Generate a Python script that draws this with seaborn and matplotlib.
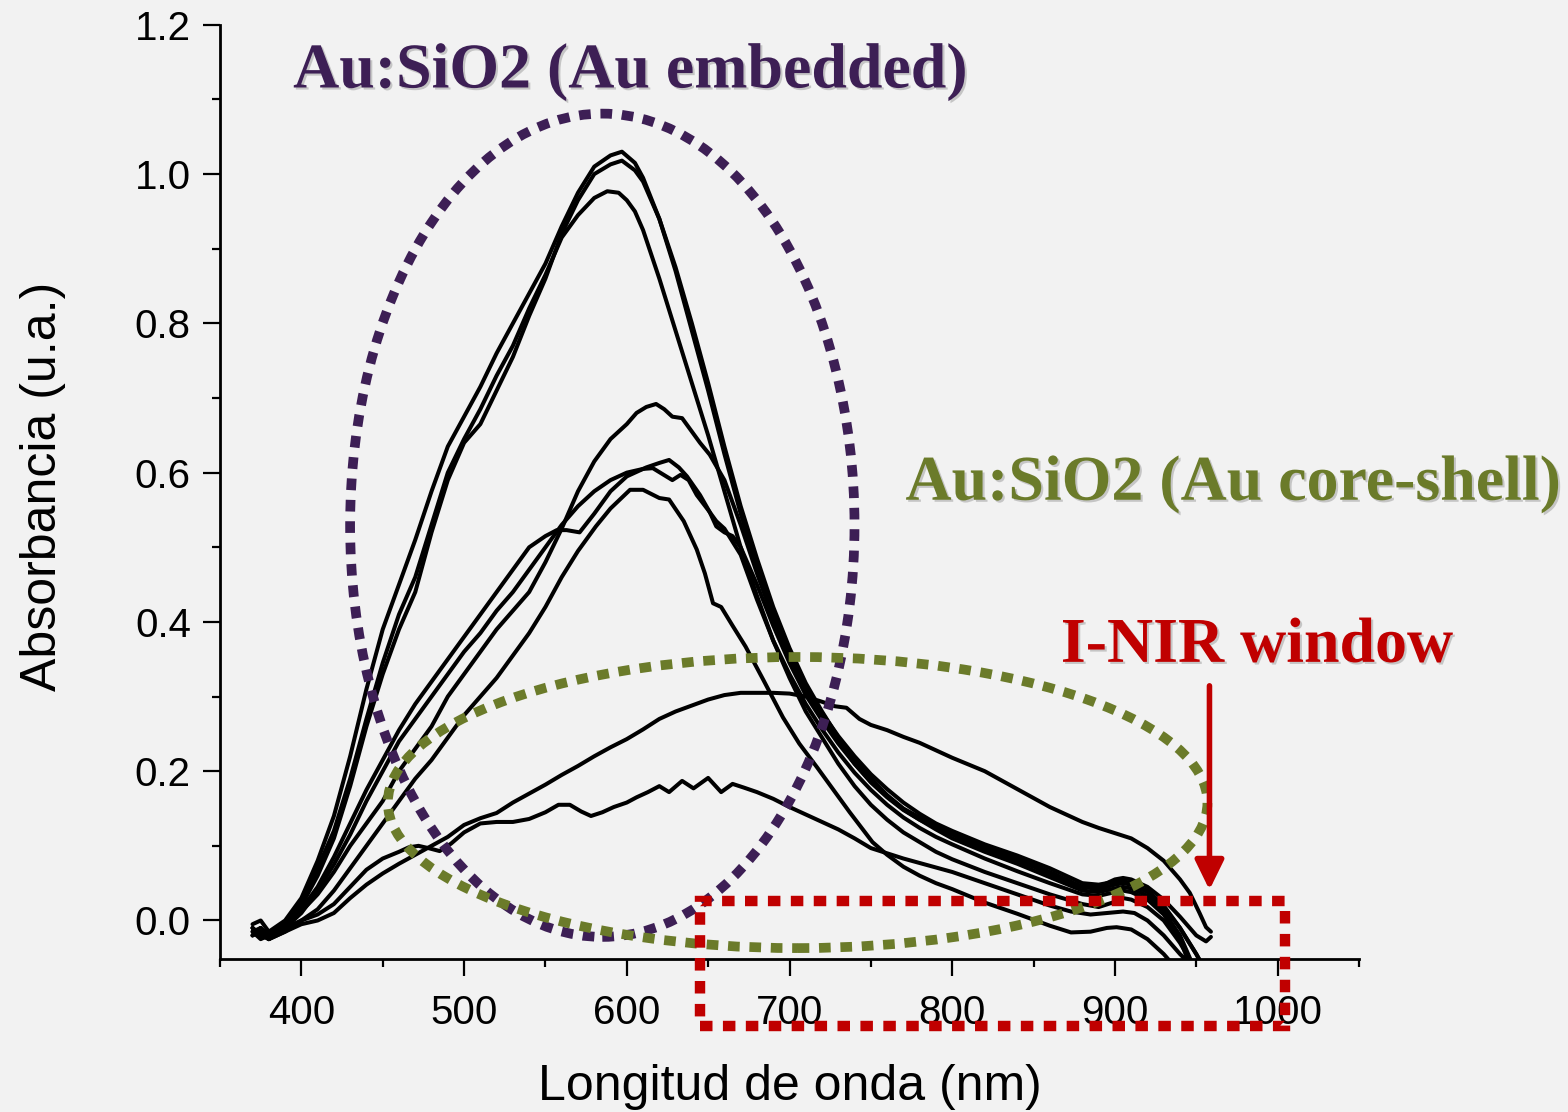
import matplotlib
matplotlib.use("Agg")
import numpy as np
import pandas as pd
import matplotlib.pyplot as plt
import seaborn as sns
from matplotlib.patches import Ellipse, Rectangle
import matplotlib.patheffects as pe

# ---------------- data ----------------
A1_nm = [370,375,380,390,400,410,420,430,440,450,460,470,480,490,500,510,520,530,540,550,560,570,580,590,597,605,610,620,630,640,650,660,670,680,690,700,710,720,730,740,750,760,770,780,790,800,810,820,830,840,850,860,870,880,890,900,905,910,920,930,940,950,956,959]
A1_abs = [-0.005,0.0,-0.015,0.0,0.03,0.08,0.14,0.22,0.31,0.39,0.45,0.51,0.575,0.635,0.675,0.715,0.76,0.80,0.84,0.88,0.93,0.975,1.01,1.025,1.03,1.015,0.995,0.94,0.87,0.79,0.71,0.625,0.545,0.475,0.41,0.355,0.31,0.275,0.24,0.21,0.185,0.165,0.148,0.135,0.125,0.115,0.105,0.096,0.088,0.08,0.072,0.062,0.052,0.045,0.045,0.055,0.057,0.055,0.045,0.028,0.005,-0.02,-0.028,-0.022]

A2_nm = A1_nm
A2_abs = [-0.015,-0.01,-0.025,-0.01,0.02,0.06,0.11,0.18,0.26,0.33,0.39,0.44,0.52,0.59,0.64,0.665,0.71,0.755,0.81,0.86,0.92,0.965,1.0,1.013,1.018,1.005,0.99,0.94,0.875,0.80,0.72,0.635,0.555,0.485,0.42,0.365,0.318,0.28,0.245,0.215,0.19,0.168,0.15,0.138,0.128,0.118,0.109,0.1,0.092,0.083,0.074,0.065,0.055,0.045,0.042,0.048,0.05,0.048,0.038,0.018,-0.01,-0.045,-0.07,-0.08]

A3_nm = [370,375,380,390,400,410,420,430,440,450,460,470,480,490,500,510,520,530,540,550,560,570,580,588,595,600,605,610,620,630,640,650,660,670,680,690,700,710,720,730,740,750,760,770,780,790,800,820,840,860,880,890,900,905,910,920,930,940,948]
A3_abs = [-0.02,-0.01,-0.02,-0.005,0.025,0.07,0.12,0.19,0.27,0.345,0.41,0.46,0.53,0.6,0.645,0.685,0.73,0.77,0.82,0.865,0.915,0.945,0.968,0.977,0.975,0.965,0.95,0.925,0.86,0.79,0.72,0.65,0.575,0.5,0.435,0.375,0.325,0.28,0.245,0.21,0.18,0.155,0.135,0.118,0.105,0.092,0.082,0.065,0.05,0.035,0.022,0.018,0.025,0.03,0.028,0.018,0.0,-0.03,-0.06]

B1_nm = [370,375,380,390,400,410,420,430,440,450,460,470,480,490,500,510,520,530,540,550,560,570,580,590,600,606,612,618,623,628,634,640,645,651,660,670,680,690,700,710,720,730,740,750,760,770,780,790,800,820,840,860,880,890,900,905,910,920,930,940,950,954]
B1_abs = [-0.01,-0.02,-0.015,-0.01,0.012,0.035,0.065,0.1,0.13,0.16,0.2,0.23,0.26,0.3,0.33,0.36,0.39,0.415,0.44,0.48,0.525,0.575,0.615,0.645,0.665,0.68,0.688,0.692,0.685,0.675,0.673,0.655,0.64,0.624,0.59,0.53,0.465,0.405,0.355,0.312,0.278,0.247,0.22,0.196,0.176,0.158,0.143,0.13,0.12,0.102,0.087,0.07,0.05,0.048,0.052,0.053,0.05,0.04,0.02,-0.01,-0.045,-0.06]

B2_nm = [370,375,380,390,400,410,420,430,440,450,460,470,480,490,500,510,520,530,540,550,557,563,571,580,590,600,612,620,626,632,637,645,651,655,660,665,670,680,690,700,710,720,730,740,750,760,770,780,790,800,820,840,860,880,890,900,905,910,920,930,940,948]
B2_abs = [-0.015,-0.025,-0.02,-0.005,0.015,0.045,0.085,0.13,0.175,0.215,0.255,0.29,0.32,0.35,0.38,0.41,0.44,0.47,0.5,0.515,0.523,0.523,0.52,0.545,0.575,0.595,0.607,0.613,0.617,0.607,0.595,0.57,0.547,0.528,0.52,0.515,0.5,0.45,0.395,0.345,0.302,0.268,0.237,0.21,0.186,0.166,0.149,0.135,0.122,0.11,0.092,0.076,0.058,0.04,0.038,0.043,0.045,0.043,0.033,0.012,-0.02,-0.06]

B3_nm = [370,375,380,390,400,410,420,430,440,450,460,470,480,490,500,510,520,530,540,550,560,570,580,590,600,610,616,622,628,633,638,643,650,655,660,670,680,690,700,710,720,730,740,750,760,770,780,790,800,820,840,860,880,890,900,905,910,920,930,940,946]
B3_abs = [-0.01,-0.02,-0.025,-0.01,0.01,0.04,0.075,0.115,0.16,0.2,0.24,0.27,0.3,0.33,0.36,0.385,0.415,0.44,0.47,0.5,0.53,0.555,0.575,0.59,0.6,0.605,0.606,0.598,0.59,0.597,0.59,0.57,0.55,0.535,0.525,0.49,0.43,0.375,0.33,0.29,0.256,0.225,0.198,0.175,0.155,0.138,0.124,0.112,0.102,0.083,0.066,0.05,0.035,0.033,0.038,0.04,0.038,0.028,0.008,-0.025,-0.06]

B4_nm = [370,375,380,390,400,410,420,430,440,450,460,470,480,490,500,510,520,530,540,550,560,570,581,590,602,610,620,626,635,643,648,653,658,665,673,684,696,706,717,727,737,751,760,770,780,790,800,820,840,860,873,885,895,901,910,920,930,936]
B4_abs = [-0.02,-0.015,-0.025,-0.015,0.0,0.015,0.04,0.07,0.1,0.13,0.16,0.19,0.215,0.245,0.275,0.3,0.325,0.355,0.385,0.42,0.46,0.495,0.528,0.552,0.577,0.577,0.566,0.564,0.535,0.497,0.465,0.425,0.42,0.395,0.367,0.322,0.272,0.237,0.205,0.175,0.145,0.105,0.088,0.072,0.06,0.05,0.042,0.024,0.009,-0.007,-0.016,-0.015,-0.01,-0.009,-0.012,-0.025,-0.045,-0.06]

C1_nm = [370,375,380,390,400,410,420,430,440,450,460,470,480,490,500,510,520,530,540,550,560,570,580,590,600,610,620,630,640,650,660,670,680,690,700,710,720,728,735,743,750,760,770,780,790,800,810,820,830,840,850,860,870,880,890,900,910,920,930,940,946,952,956,959]
C1_abs = [-0.02,-0.01,-0.025,-0.015,-0.005,0.0,0.01,0.03,0.048,0.063,0.076,0.088,0.1,0.112,0.128,0.137,0.144,0.158,0.17,0.182,0.195,0.207,0.22,0.232,0.243,0.256,0.27,0.28,0.288,0.296,0.302,0.305,0.305,0.305,0.304,0.3,0.293,0.287,0.285,0.27,0.262,0.255,0.246,0.238,0.228,0.218,0.209,0.2,0.188,0.176,0.164,0.152,0.142,0.132,0.124,0.117,0.11,0.097,0.08,0.055,0.037,0.01,-0.009,-0.015]

C2_nm = [370,375,380,390,400,410,420,430,440,450,460,466,472,478,485,492,500,510,520,530,540,550,558,565,572,578,585,592,600,606,613,620,626,634,641,650,658,665,672,680,690,700,710,720,730,740,750,760,770,780,790,800,820,840,860,873,885,895,905,912,920,930,940,947]
C2_abs = [-0.01,-0.02,-0.015,-0.01,0.0,0.008,0.022,0.045,0.068,0.083,0.092,0.098,0.1,0.097,0.093,0.103,0.118,0.13,0.132,0.132,0.136,0.145,0.155,0.155,0.146,0.14,0.145,0.152,0.158,0.165,0.172,0.18,0.172,0.187,0.177,0.191,0.172,0.183,0.178,0.172,0.163,0.152,0.142,0.132,0.122,0.11,0.097,0.09,0.083,0.077,0.071,0.065,0.05,0.035,0.02,0.012,0.008,0.01,0.012,0.01,0.0,-0.02,-0.045,-0.06]

CURVES = {"A1": (A1_nm, A1_abs), "A2": (A2_nm, A2_abs), "A3": (A3_nm, A3_abs),
          "B1": (B1_nm, B1_abs), "B2": (B2_nm, B2_abs), "B3": (B3_nm, B3_abs),
          "B4": (B4_nm, B4_abs), "C1": (C1_nm, C1_abs), "C2": (C2_nm, C2_abs)}

X_MAJOR = [400, 500, 600, 700, 800, 900, 1000]
Y_MAJOR = [0.0, 0.2, 0.4, 0.6, 0.8, 1.0, 1.2]

TITLE_EMB = "Au:SiO2 (Au embedded)"
TITLE_CS = "Au:SiO2 (Au core-shell)"
TITLE_NIR = "I-NIR window"
XLABEL = "Longitud de onda (nm)"
YLABEL = "Absorbancia (u.a.)"

# ---------------- styling ----------------
BG = "#f2f2f2"
PURPLE = "#3d1f55"
OLIVE = "#6b7b2a"
RED = "#c00000"

sns.set_theme(style="ticks")
plt.rcParams["font.family"] = ["Liberation Sans", "DejaVu Sans"]

df = pd.concat([pd.DataFrame({"nm": x, "abs": y, "curve": k}) for k, (x, y) in CURVES.items()],
               ignore_index=True)

W, H = 1568, 1112
fig = plt.figure(figsize=(W / 100, H / 100), dpi=100, facecolor=BG)
ax = fig.add_axes([220 / W, (H - 959) / H, 1139 / W, 934.2 / H])
ax.set_facecolor(BG)

sns.lineplot(data=df, x="nm", y="abs", units="curve", estimator=None, sort=False,
             color="black", linewidth=2.9, ax=ax, legend=False, zorder=2)
for ln in ax.get_lines():
    ln.set_solid_joinstyle("round")
    ln.set_solid_capstyle("round")

ax.set_xlim(350, 1050)
ax.set_ylim(-0.0516, 1.2)

for s in ["top", "right"]:
    ax.spines[s].set_visible(False)
for s in ["left", "bottom"]:
    ax.spines[s].set_linewidth(2.0)
    ax.spines[s].set_color("black")

ax.set_xticks(X_MAJOR)
ax.set_xticks(np.arange(350, 1051, 100), minor=True)
ax.set_yticks(Y_MAJOR)
ax.set_yticks(np.arange(0.1, 1.2, 0.2), minor=True)
ax.set_yticklabels([f"{v:.1f}" for v in Y_MAJOR])
ax.set_xticklabels([str(v) for v in X_MAJOR])
ax.tick_params(which="major", direction="out", length=12, width=1.6, labelsize=29, colors="black")
ax.tick_params(which="minor", direction="out", length=6, width=1.6, colors="black")
ax.tick_params(axis="y", which="major", pad=9)
ax.tick_params(axis="x", which="major", pad=13)

ax.set_xlabel(XLABEL, fontsize=36, color="black")
ax.set_ylabel(YLABEL, fontsize=36, color="black")
ax.xaxis.set_label_coords(0.5004, -0.1125)
ax.yaxis.set_label_coords(-0.135, 0.506)

# ---------------- annotations ----------------
ls_dot = (0, (1.2, 1.0))
ax.add_patch(Ellipse((584.95, 0.5295), 310, 1.103, fill=False, edgecolor=PURPLE,
                     linewidth=7, linestyle=ls_dot, zorder=3, clip_on=False))
ax.add_patch(Ellipse((705.0, 0.158), 503.7, 0.390, fill=False, edgecolor=OLIVE,
                     linewidth=7, linestyle=ls_dot, zorder=3, clip_on=False))
ax.add_patch(Rectangle((644.8, -0.1414), 360.0, 0.1674, fill=False, edgecolor=RED,
                       linewidth=7.5, linestyle=ls_dot, zorder=4, clip_on=False))

ax.annotate("", xy=(958.1, 0.041), xytext=(958.1, 0.3144),
            arrowprops=dict(arrowstyle="-|>,head_length=0.45,head_width=0.22",
                            mutation_scale=40, color=RED, lw=4, shrinkA=0, shrinkB=0),
            annotation_clip=False, zorder=4)

shadow = [pe.withSimplePatchShadow(offset=(1.5, -1.5), shadow_rgbFace=(0.6, 0.6, 0.6), alpha=0.5)]
serif = ["Liberation Serif", "DejaVu Serif"]
ax.text(602.1, 1.116, TITLE_EMB, color=PURPLE, fontsize=46, fontweight="bold", family=serif,
        ha="center", va="baseline", clip_on=False, path_effects=shadow, zorder=5)
ax.text(972.5, 0.5637, TITLE_CS, color=OLIVE, fontsize=46, fontweight="bold", family=serif,
        ha="center", va="baseline", clip_on=False, path_effects=shadow, zorder=5)
ax.text(987.3, 0.3465, TITLE_NIR, color=RED, fontsize=46, fontweight="bold", family=serif,
        ha="center", va="baseline", clip_on=False, path_effects=shadow, zorder=5)

fig.savefig("out.png", dpi=100, facecolor=BG)
